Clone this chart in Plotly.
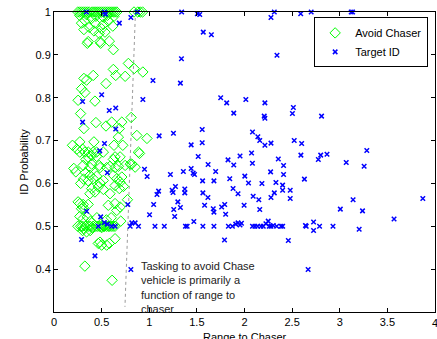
import plotly.graph_objects as go

# ---- data: Avoid Chaser (green diamonds) ----
avoid_x = [
    0.25, 0.27, 0.29, 0.31, 0.33, 0.35, 0.37, 0.40, 0.42, 0.44, 0.46, 0.48, 0.50, 0.52, 0.54,
    0.56, 0.58, 0.60, 0.62, 0.64, 0.66, 0.84, 0.88, 0.905, 0.93,
    0.27, 0.34, 0.44, 0.56, 0.63,
    0.289, 0.324, 0.395, 0.43, 0.518, 0.518, 0.57, 0.617,
    0.314, 0.37, 0.419, 0.50, 0.475, 0.535,
    0.359, 0.483, 0.581, 0.623, 0.35, 0.49,
    0.781, 0.842, 0.933, 0.623, 0.648, 0.412, 0.747, 0.314, 0.342, 0.546,
    0.289, 0.324, 0.253, 0.43, 0.279, 0.314, 0.44, 0.546, 0.606, 0.712, 0.81, 0.686,
    0.87, 0.976, 0.676, 0.722, 0.63, 0.194, 0.271, 0.419, 0.887,
    0.271, 0.324, 0.36, 0.412, 0.447, 0.359, 0.335, 0.641, 0.623, 0.80, 0.898, 0.852,
    0.395, 0.448, 0.518, 0.694, 0.30, 0.24,
    0.208, 0.379, 0.483, 0.554, 0.641, 0.306, 0.395, 0.475, 0.588, 0.676, 0.747, 0.817,
    0.229, 0.377, 0.412, 0.359, 0.448, 0.483, 0.518, 0.623, 0.659, 0.712, 0.694, 0.641,
    0.686, 0.729, 0.518, 0.465, 0.588, 0.395, 0.43, 0.377, 0.28, 0.31, 0.33,
    0.253, 0.306, 0.289, 0.271, 0.359, 0.306, 0.57, 0.641, 0.694, 0.659, 0.771,
    0.271, 0.306, 0.349, 0.384, 0.701, 0.45, 0.55, 0.60,
    0.25, 0.28, 0.30, 0.33, 0.36, 0.38, 0.41, 0.44, 0.46, 0.48, 0.50, 0.52, 0.53, 0.55,
    0.57, 0.58, 0.60, 0.62, 0.64, 0.31, 0.40, 0.50,
    0.342, 0.30, 0.38,
    0.465, 0.483, 0.50, 0.553, 0.581, 0.641, 0.324, 0.61,
]
avoid_y = [
    1.0, 1.0, 1.0, 1.0, 1.0, 1.0, 1.0, 1.0, 1.0, 1.0, 1.0, 1.0, 1.0, 1.0, 1.0,
    1.0, 1.0, 1.0, 1.0, 1.0, 1.0, 1.0, 1.0, 1.0, 1.0,
    0.992, 0.994, 0.99, 0.992, 0.99,
    0.974, 0.980, 0.985, 0.974, 0.988, 0.971, 0.979, 0.967,
    0.959, 0.964, 0.956, 0.961, 0.950, 0.953,
    0.931, 0.931, 0.932, 0.912, 0.927, 0.927,
    0.880, 0.868, 0.860, 0.866, 0.852, 0.852, 0.850, 0.845, 0.841, 0.833,
    0.821, 0.812, 0.794, 0.792, 0.763, 0.728, 0.742, 0.734, 0.743, 0.743, 0.754, 0.728,
    0.712, 0.705, 0.708, 0.689, 0.689, 0.689, 0.697, 0.697, 0.673,
    0.673, 0.673, 0.673, 0.673, 0.673, 0.661, 0.656, 0.662, 0.656, 0.645, 0.670, 0.638,
    0.665, 0.663, 0.673, 0.662, 0.680, 0.680,
    0.635, 0.637, 0.637, 0.637, 0.637, 0.642, 0.645, 0.642, 0.640, 0.640, 0.642, 0.645,
    0.627, 0.619, 0.611, 0.606, 0.617, 0.601, 0.607, 0.619, 0.611, 0.615, 0.603, 0.595,
    0.588, 0.593, 0.586, 0.592, 0.576, 0.588, 0.580, 0.576, 0.600, 0.610, 0.625,
    0.557, 0.551, 0.541, 0.553, 0.551, 0.544, 0.549, 0.553, 0.545, 0.537, 0.562,
    0.523, 0.518, 0.522, 0.512, 0.512, 0.520, 0.515, 0.520,
    0.50, 0.50, 0.50, 0.50, 0.50, 0.50, 0.50, 0.50, 0.50, 0.50, 0.50, 0.50, 0.50, 0.50,
    0.50, 0.50, 0.50, 0.50, 0.50, 0.495, 0.497, 0.497,
    0.487, 0.490, 0.490,
    0.460, 0.463, 0.456, 0.456, 0.460, 0.471, 0.407, 0.374,
]

# ---- data: Target ID (blue x) ----
target_x = [
    0.34, 0.53, 0.54, 0.686, 0.807, 0.875, 1.34, 1.505, 1.53, 1.567, 1.652, 1.338,
    2.313, 2.278, 2.341, 2.59, 2.70, 3.12, 3.135,
    1.039, 1.327, 0.50, 0.30, 0.933, 1.75, 1.813, 2.014, 2.214, 2.513, 2.503, 1.887,
    2.207, 2.214, 2.809, 0.58, 0.648, 0.30, 0.648, 0.53, 0.48,
    1.104, 1.254, 1.556, 1.556, 1.44, 2.084, 2.14, 2.16, 2.214, 2.278, 2.522, 2.60,
    3.284, 2.592, 2.80, 2.775, 2.866, 1.953, 2.074, 1.827, 1.887, 2.083, 2.355, 2.41,
    3.068, 3.256, 1.514, 1.618, 0.95, 0.978, 0.56,
    1.358, 1.44, 1.461, 1.475, 1.697, 1.222, 1.56, 1.679, 1.275, 1.24, 1.25, 1.098,
    1.081, 1.373, 1.373, 1.563, 1.616, 1.046, 1.30, 1.327, 1.257, 1.267, 1.468,
    1.581, 1.672, 1.679, 1.76, 1.792, 1.802, 1.845, 1.88, 1.932, 2.003, 2.042, 2.091,
    1.996, 2.15, 2.16, 1.003, 0.775, 0.342, 0.289, 0.43, 0.807,
    0.49, 0.465, 0.528, 0.56, 0.606, 0.641, 0.80, 0.817, 0.852, 0.887, 1.06, 1.158,
    1.38, 1.398, 1.563, 1.679, 1.831, 1.873, 1.908, 1.932, 1.953, 1.968, 2.084, 2.109,
    2.137, 2.172, 2.197, 2.225, 2.249, 2.26, 2.278, 2.302, 2.338, 2.384, 2.401, 2.64,
    2.648, 2.725, 2.725, 2.788, 2.929, 3.204, 1.79, 2.46, 2.668,
    2.274, 2.41, 2.183, 2.33, 2.40, 2.40, 2.48, 2.629, 2.313, 2.278, 2.48,
    3.14, 3.006, 3.239, 3.872, 3.57,
]
target_y = [
    1.0, 1.0, 0.995, 0.974, 0.987, 1.0, 1.0, 0.996, 0.994, 0.953, 0.947, 0.891,
    1.0, 0.987, 0.899, 0.996, 1.0, 1.0, 1.0,
    0.840, 0.834, 0.807, 0.791, 0.796, 0.800, 0.788, 0.796, 0.788, 0.777, 0.763, 0.764,
    0.757, 0.752, 0.757, 0.770, 0.776, 0.743, 0.727, 0.693, 0.676,
    0.711, 0.717, 0.726, 0.695, 0.690, 0.720, 0.709, 0.700, 0.689, 0.694, 0.700, 0.693,
    0.677, 0.666, 0.666, 0.656, 0.668, 0.664, 0.671, 0.655, 0.643, 0.647, 0.657, 0.642,
    0.649, 0.640, 0.663, 0.644, 0.633, 0.616, 0.625,
    0.628, 0.635, 0.624, 0.621, 0.628, 0.621, 0.606, 0.606, 0.593, 0.584, 0.579, 0.582,
    0.574, 0.587, 0.578, 0.578, 0.567, 0.551, 0.557, 0.544, 0.539, 0.523, 0.511,
    0.549, 0.541, 0.533, 0.545, 0.551, 0.528, 0.611, 0.588, 0.576, 0.617, 0.601, 0.570,
    0.549, 0.562, 0.539, 0.527, 0.551, 0.535, 0.469, 0.431, 0.399,
    0.522, 0.500, 0.509, 0.505, 0.500, 0.500, 0.500, 0.508, 0.508, 0.500, 0.500, 0.500,
    0.500, 0.500, 0.500, 0.500, 0.500, 0.500, 0.505, 0.508, 0.503, 0.507, 0.500, 0.500,
    0.500, 0.500, 0.500, 0.506, 0.512, 0.500, 0.500, 0.502, 0.500, 0.500, 0.500, 0.502,
    0.500, 0.510, 0.490, 0.500, 0.500, 0.493, 0.468, 0.467, 0.399,
    0.627, 0.621, 0.600, 0.602, 0.596, 0.584, 0.584, 0.610, 0.578, 0.567, 0.565,
    0.562, 0.540, 0.536, 0.565, 0.517,
]

# dotted boundary line
boundary_x = [0.855, 0.745]
boundary_y = [1.0, 0.312]

x_range = [0, 4]
x_ticks = [0, 0.5, 1, 1.5, 2, 2.5, 3, 3.5, 4]
x_tick_text = ["0", "0.5", "1", "1.5", "2", "2.5", "3", "3.5", "4"]
y_ticks = [0.4, 0.5, 0.6, 0.7, 0.8, 0.9, 1.0]
y_tick_text = ["0.4", "0.5", "0.6", "0.7", "0.8", "0.9", "1"]

note_text = "Tasking to avoid Chase<br>vehicle is primarily a<br>function of range to<br>chaser"
x_title = "Range to Chaser"
y_title = "ID Probability"

FONT = "Liberation Sans, Arial, sans-serif"

fig = go.Figure()
fig.add_trace(go.Scatter(
    x=boundary_x, y=boundary_y, mode="lines", showlegend=False, hoverinfo="skip",
    line=dict(color="#9a9a9a", width=1, dash="dot"),
))
fig.add_trace(go.Scatter(
    x=avoid_x, y=avoid_y, mode="markers", name="Avoid Chaser", cliponaxis=False,
    marker=dict(symbol="diamond-open", size=8, color="#00ff00", line=dict(width=1, color="#00ff00")),
))
fig.add_trace(go.Scatter(
    x=target_x, y=target_y, mode="markers", name="Target ID", cliponaxis=False,
    marker=dict(symbol="x-thin", size=4.5, color="#0000ff", line=dict(width=1.5, color="#0000ff")),
))

fig.add_annotation(
    x=0.89, y=0.425, xref="x", yref="y", text=note_text, showarrow=False,
    xanchor="left", yanchor="top", align="left",
    font=dict(family=FONT, size=11, color="#222222"),
)
# x-axis title placed just below the tick labels, near the bottom edge as in the reference
fig.add_annotation(
    x=0.5, y=-0.056, xref="paper", yref="paper", text=x_title, showarrow=False,
    xanchor="center", yanchor="top",
    font=dict(family=FONT, size=11, color="black"),
)
# last x tick label sits on the right page edge
fig.add_annotation(
    x=1.0, y=0, xref="paper", yref="paper", text=x_tick_text[-1], showarrow=False,
    xanchor="center", yanchor="top", yshift=-3,
    font=dict(family=FONT, size=11, color="black"),
)

axis_common = dict(
    showline=True, linecolor="black", linewidth=1, mirror="ticks",
    ticks="inside", ticklen=4, tickcolor="black", showgrid=False, zeroline=False,
    tickfont=dict(family=FONT, size=11, color="black"),
)
fig.update_xaxes(
    range=x_range, tickvals=x_ticks, ticktext=x_tick_text[:-1] + [""],
    **axis_common,
)
fig.update_yaxes(
    range=[0.3, 1.0], tickvals=y_ticks, ticktext=y_tick_text,
    title=dict(text=y_title, font=dict(family=FONT, size=11, color="black"), standoff=4),
    **axis_common,
)

fig.update_layout(
    width=437, height=339,
    margin=dict(l=54, r=2, t=12, b=27, autoexpand=False),
    paper_bgcolor="white", plot_bgcolor="white",
    font=dict(family=FONT, size=11, color="black"),
    legend=dict(
        x=0.982, y=0.982, xanchor="right", yanchor="top",
        bgcolor="white", bordercolor="black", borderwidth=1,
        font=dict(family=FONT, size=11, color="black"),
        tracegroupgap=0, itemwidth=30,
    ),
    showlegend=True,
)

fig.write_html("out.html")
